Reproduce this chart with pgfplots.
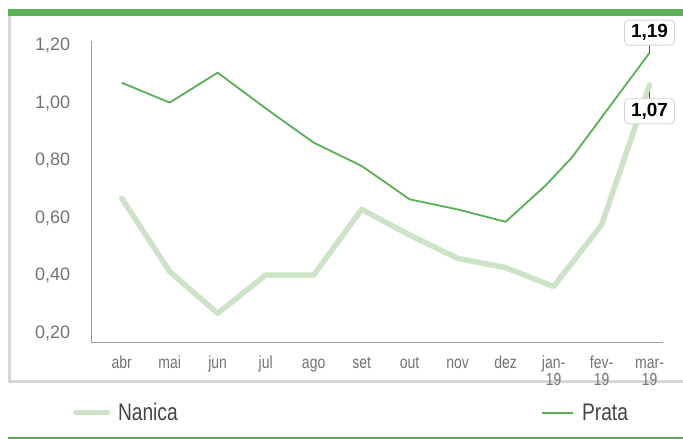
\documentclass[border=0pt]{standalone}
\usepackage{fontspec}
\setmainfont{Liberation Sans}
\newfontfamily\condfont{Liberation Sans}[FakeStretch=0.8]
\usepackage{pgfplots}
\pgfplotsset{compat=1.18}
\usepackage{pgfplotstable}

\definecolor{prata}{HTML}{5AAE55}
\definecolor{nanica}{HTML}{CCE3C7}
\definecolor{bargreen}{HTML}{5BAF57}
\definecolor{panelgray}{HTML}{D6D6D6}
\definecolor{axisgray}{HTML}{9A9A9A}
\definecolor{ticklab}{HTML}{737373}
\definecolor{legtext}{HTML}{444444}

\pgfplotstableread{
x y
0 0.675
1 0.420
2 0.275
3 0.408
4 0.408
5 0.636
6 0.547
7 0.466
8 0.434
9 0.368
10 0.582
11 1.068
}\nanicatab

\pgfplotstableread{
x y
0 1.076
1 1.007
2 1.111
3 0.987
4 0.868
5 0.787
6 0.671
7 0.636
8 0.593
8.82 0.717
9.375 0.815
11 1.18
}\pratatab

\begin{document}
\begin{tikzpicture}[x=1pt,y=1pt]
\useasboundingbox (0,0) rectangle (683,439);
\fill[bargreen] (8.3,429.7) rectangle (683,423);
\draw[panelgray, line width=2.8pt] (9.8,423) -- (9.8,57.5) -- (684,57.5);
\draw[bargreen, line width=1.3pt] (8,1) -- (683,1);
\begin{axis}[
  at={(91.7pt,96.3pt)}, anchor=south west,
  scale only axis, width=571.3pt, height=302pt,
  xmin=-0.625, xmax=11.28, ymin=0.173, ymax=1.222,
  clip=false,
  axis x line=bottom, axis y line=left,
  axis line style={axisgray, line width=1pt, -},
  major tick length=0pt,
  xtick={0,1,2,3,4,5,6,7,8,9,10,11},
  xticklabels={abr,mai,jun,jul,ago,set,out,nov,dez,jan-\\[-2pt]19,fev-\\[-2pt]19,mar-\\[-2pt]19},
  typeset ticklabels with strut,
  xticklabel style={font=\condfont\fontsize{17.5}{19}\selectfont, text=ticklab, align=center, yshift=-9pt},
  ytick={0.2,0.4,0.6,0.8,1.0,1.2},
  yticklabels={{0,20},{0,40},{0,60},{0,80},{1,00},{1,20}},
  yticklabel style={font=\fontsize{18}{18}\selectfont, text=ticklab, xshift=-18pt},
  legend columns=2,
  legend image code/.code={\draw[#1] (2.75pt,0pt) -- (34.25pt,0pt);},
  legend style={at={(-0.0327,-0.2318)}, anchor=west, draw=none, fill=none,
    inner sep=0pt, outer sep=0pt,
    font=\condfont\fontsize{24}{24}\selectfont, text=legtext,
    nodes={inner sep=0pt},
    /tikz/every odd column/.append style={column sep=8pt},
    /tikz/every even column/.append style={column sep=363pt}},
]
\addplot[nanica, line width=5.5pt, line join=round, line cap=round] table {\nanicatab};
\addlegendentry{Nanica}
\addplot[prata, line width=1.8pt, line join=round] table {\pratatab};
\addlegendentry{Prata}

\draw[black!70, line width=0.6pt] (axis cs:11,1.18) -- (axis cs:11,1.22);
\node[draw=gray!35, fill=white, rounded corners=4pt, line width=0.8pt,
  minimum width=50pt, minimum height=25pt, inner sep=0pt,
  font=\bfseries\fontsize{19}{19}\selectfont] at (axis cs:11,1.25) {1,19};
\draw[black!70, line width=0.6pt] (axis cs:11,1.045) -- (axis cs:11,1.0);
\node[draw=gray!35, fill=white, rounded corners=4pt, line width=0.8pt,
  minimum width=50pt, minimum height=25pt, inner sep=0pt,
  font=\bfseries\fontsize{19}{19}\selectfont] at (axis cs:11,0.977) {1,07};
\end{axis}
\end{tikzpicture}
\end{document}
